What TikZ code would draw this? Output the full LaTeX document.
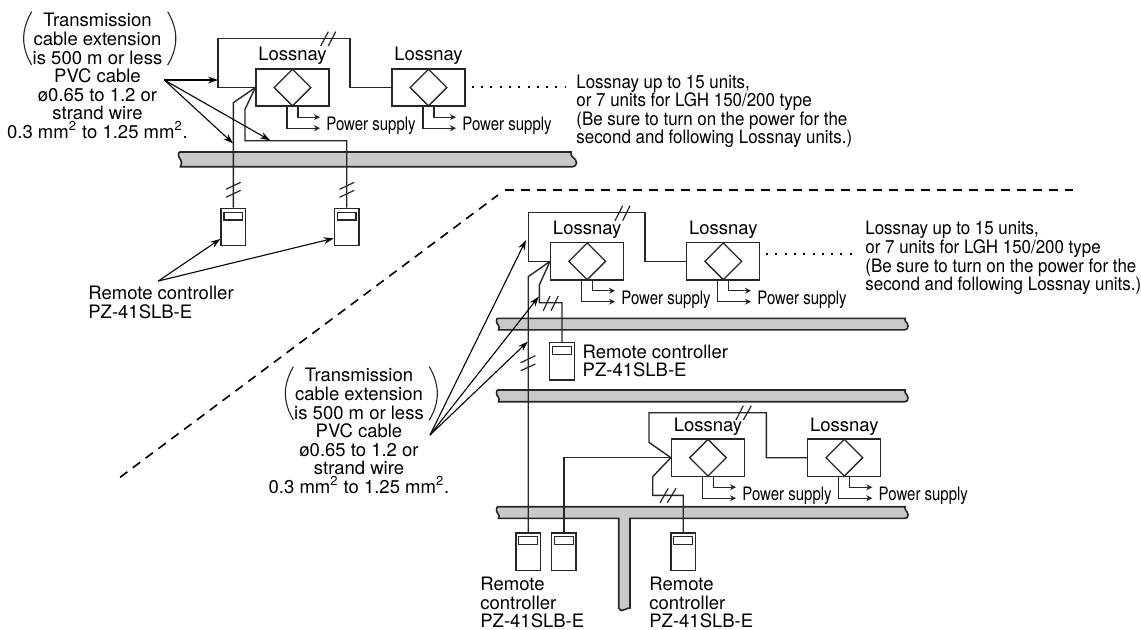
\documentclass[tikz,border=0pt]{standalone}
\usepackage{fontspec}
\setmainfont{TeX Gyre Heros}
\newfontfamily\supplyfont[FakeStretch=0.81]{TeX Gyre Heros}
\newfontfamily\notefont[FakeStretch=0.915]{TeX Gyre Heros}
\usepackage{tikz}
\usetikzlibrary{positioning,arrows.meta,shapes.geometric}
\definecolor{ductgray}{gray}{0.79}
\tikzset{
  unitbox/.style={rectangle, draw=black!85, minimum width=36.5pt, minimum height=18.6pt, inner sep=0pt, line width=0.65pt},
  valve/.style={diamond, draw=black!85, aspect=1, minimum size=18.6pt, inner sep=0pt, line width=0.65pt},
  unitlbl/.style={font=\fontsize{9.25}{9.3}\selectfont, inner sep=0pt},
  supply/.style={font=\supplyfont\fontsize{9.25}{9.3}\selectfont, anchor=west, inner ysep=0pt, inner xsep=3pt},
  txt/.style={font=\fontsize{9.25}{9.3}\selectfont, align=center, inner sep=0pt},
  ltxt/.style={font=\fontsize{9.25}{9.3}\selectfont, align=left, anchor=west, inner sep=0pt},
  note/.style={font=\notefont\fontsize{9.25}{9.3}\selectfont, align=left, anchor=west, inner sep=0pt},
  remote/.style={rectangle, draw=black!85, fill=white, minimum width=12.3pt, minimum height=18.7pt, inner sep=0pt, line width=0.65pt},
  lcd/.style={rectangle, draw=black!85, minimum width=9.3pt, minimum height=3.9pt, inner sep=0pt, line width=0.55pt},
  wire/.style={draw=black!85, line width=0.7pt},
  pwr/.style={draw=black!85, line width=0.6pt, -{Stealth[length=3pt,width=3pt]}},
  callout/.style={draw=black, line width=0.55pt, -{Stealth[length=5pt,width=3.4pt]}},
  tick/.style={draw=black!85, line width=0.6pt},
  duct/.style={draw=black!85, fill=ductgray, line width=0.8pt},
  brk/.style={draw=black!85, line width=0.55pt},
  divider/.style={draw=black, line width=0.8pt, dash pattern=on 4.6pt off 3.4pt},
  dots/.style={draw=black, line width=1pt, dash pattern=on 1pt off 3.65pt}
}

\begin{document}
\begin{tikzpicture}[x=0.5pt,y=-0.5pt]
  \useasboundingbox (0,0) rectangle (1141,629);
  % ducts
  \draw[duct] (180,152) -- (571,152) .. controls (569,157) and (577,158) .. (576.5,163) .. controls (576,165) and (575,166.7) .. (573,166.7) -- (180.5,166.7) .. controls (184,161) and (178,158) .. (178.5,155) .. controls (178.5,153) and (179,152) .. (180,152) -- cycle;
  \draw[duct] (498,318.3) -- (905,318.3) .. controls (904,322) and (908,322) .. (908,326) .. controls (908,328) and (907,329.8) .. (905,329.8) -- (498.5,329.8) .. controls (501,326) and (496,324) .. (496.5,321) .. controls (496.5,319) and (497,318.3) .. (498,318.3) -- cycle;
  \draw[duct] (498,390) -- (905,390) .. controls (904,394) and (908,394) .. (908,398) .. controls (908,400) and (907,401.7) .. (905,401.7) -- (498.5,401.7) .. controls (501,398) and (496,396) .. (496.5,393) .. controls (496.5,391) and (497,390) .. (498,390) -- cycle;
  \draw[duct] (498,506.7) -- (905,506.7) .. controls (904,510) and (908,511) .. (908,515) .. controls (908,517) and (907,518.3) .. (905,518.3) -- (630,518.3) -- (630,608) .. controls (626,608) and (624,611) .. (621,610.5) .. controls (620,610) and (619,609) .. (618.7,608) -- (618.7,518.3) -- (498.5,518.3) .. controls (501,515) and (496,513) .. (496.5,510) .. controls (496.5,508) and (497,506.7) .. (498,506.7) -- cycle;
  \draw[divider] (120,477.3) -- (498,195);
  \draw[divider] (505,190) -- (1072.7,190);
  % upper group
  \node[unitbox] (ua) at (292.5,87.5) {};
  \node[unitbox] (ub) at (428.5,87.5) {};
  \node[valve] (va) at (ua) {};
  \node[valve] (vb) at (ub) {};
  \node[unitlbl, above=1.5pt of ua] (la) {Lossnay};
  \node[unitlbl, above=1.5pt of ub] (lb) {Lossnay};
  \node[supply] (sa) at (320,126) {Power supply};
  \node[supply] (sb) at (456,126) {Power supply};
  \draw[pwr] ([xshift=2.75pt]ua.south) |- ([yshift=4.4pt]sa.west);
  \draw[pwr] ([xshift=-2.75pt]ua.south) |- ([yshift=-1.1pt]sa.west);
  \draw[pwr] ([xshift=2.75pt]ub.south) |- ([yshift=4.4pt]sb.west);
  \draw[pwr] ([xshift=-2.75pt]ub.south) |- ([yshift=-1.1pt]sb.west);
  \node[remote] (ra) at (233.3,227) {};
  \node[remote] (rb) at (346.7,227) {};
  \node[lcd, below=2pt of ra.north] (da) {};
  \node[lcd, below=2pt of rb.north] (db) {};
  \coordinate (c1) at (218,38.7);
  \coordinate (c2) at (350,38.7);
  \coordinate (c3) at (233.3,102.7);
  \coordinate (c4) at (245,109.3);
  \coordinate (c5) at (346.7,140.7);
  \draw[wire] (ua.west) -| (c1) -- (c2) |- (ub.west);
  \draw[wire] (ua.west) -- (c3) -- (ra.north);
  \draw[wire] (ua.west) -- (c4) |- (c5) -- (rb.north);
  \draw[tick] (320.7,46)--(328.3,31.7) (328.3,46)--(335.7,31.7);
  \draw[tick] (226,189.3)--(240.7,182.3) (226,197.3)--(240.7,190.3);
  \draw[tick] (339.5,189.3)--(354.2,182.3) (339.5,197.3)--(354.2,190.3);
  \draw[dots] (471.7,87.3) -- (566,87.3);
  \node[note] (na) at (576,111.3) {Lossnay up to 15 units,\\or 7 units for LGH 150/200 type\\(Be sure to turn on the power for the\\second and following Lossnay units.)};
  \node[txt] (ta) at (97.5,76) {Transmission\\cable extension\\is 500 m or less\\PVC cable\\ø0.65 to 1.2 or\\strand wire\\0.3 mm\textsuperscript{2} to 1.25 mm\textsuperscript{2}.};
  \draw[brk] (31.7,11.7) .. controls (21,30) and (21,47) .. (31.7,65);
  \draw[brk] (167.7,11.7) .. controls (178.5,30) and (178.5,47) .. (167.7,65);
  \coordinate (ka) at (164.3,80);
  \coordinate (ka1) at (218,80);
  \coordinate (ka2) at (233,143.3);
  \coordinate (ka3) at (270,140.3);
  \draw[callout] (ka) -- (ka1);
  \draw[callout] (ka) -- (ka2);
  \draw[callout] (ka) -- (ka3);
  \node[ltxt] (tr) at (88,302.5) {Remote controller\\PZ-41SLB-E};
  \coordinate (kr) at (158.3,281);
  \draw[callout] (kr) -- (ra.south west |- 0,239);
  \draw[callout] (kr) -- (rb.south west |- 0,238.3);
  % middle group
  \node[unitbox] (uc) at (587.2,261.3) {};
  \node[unitbox] (ud) at (723.3,261.3) {};
  \node[valve] (vc) at (uc) {};
  \node[valve] (vd) at (ud) {};
  \node[unitlbl, above=1.5pt of uc] (lc) {Lossnay};
  \node[unitlbl, above=1.5pt of ud] (ld) {Lossnay};
  \node[supply] (sc) at (615,299.5) {Power supply};
  \node[supply] (sd) at (751,299.5) {Power supply};
  \draw[pwr] ([xshift=2.75pt]uc.south) |- ([yshift=4.4pt]sc.west);
  \draw[pwr] ([xshift=-2.75pt]uc.south) |- ([yshift=-1.1pt]sc.west);
  \draw[pwr] ([xshift=2.75pt]ud.south) |- ([yshift=4.4pt]sd.west);
  \draw[pwr] ([xshift=-2.75pt]ud.south) |- ([yshift=-1.1pt]sd.west);
  \node[remote] (rc) at (562,361.2) {};
  \node[lcd, below=2pt of rc.north] (dc) {};
  \node[ltxt] (tc) at (582.3,361) {Remote controller\\PZ-41SLB-E};
  \coordinate (c6) at (528.2,212.7);
  \coordinate (c7) at (645,212.7);
  \coordinate (c8) at (528.2,276.7);
  \coordinate (c9) at (539.3,285);
  \coordinate (c10) at (539.3,302.7);
  \node[remote] (rd) at (528.2,551.7) {};
  \node[lcd, below=2pt of rd.north] (dd) {};
  \draw[wire] (uc.west) -| (c6) -- (c7) |- (ud.west);
  \draw[wire] (uc.west) -- (c8) -- (rd.north);
  \draw[wire] (uc.west) -- (c9) -- (c10) -| (rc.north);
  \draw[tick] (615,220.7)--(622.7,205.7) (622.7,220.7)--(630,205.7);
  \draw[tick] (543.3,310.7)--(550,296) (551,310.7)--(558.3,296);
  \draw[tick] (520.7,362.7)--(535.3,355.7) (520.7,370.7)--(535.3,364);
  \draw[dots] (766,254.3) -- (852.5,254.3);
  \node[note] (nb) at (865,258) {Lossnay up to 15 units,\\or 7 units for LGH 150/200 type\\(Be sure to turn on the power for the\\second and following Lossnay units.)};
  \node[txt] (tb) at (359,431) {Transmission\\cable extension\\is 500 m or less\\PVC cable\\ø0.65 to 1.2 or\\strand wire\\0.3 mm\textsuperscript{2} to 1.25 mm\textsuperscript{2}.};
  \draw[brk] (293.4,366.7) .. controls (282.7,385) and (282.7,402) .. (293.4,420);
  \draw[brk] (429.3,366.7) .. controls (440,385) and (440,402) .. (429.3,420);
  \coordinate (kb) at (430,435);
  \coordinate (kb1) at (526,240);
  \coordinate (kb2) at (538.7,296.7);
  \coordinate (kb3) at (527.7,341.7);
  \draw[callout] (kb) -- (kb1);
  \draw[callout] (kb) -- (kb2);
  \draw[callout] (kb) -- (kb3);
  % lower group
  \node[unitbox] (ue) at (708,457.7) {};
  \node[unitbox] (uf) at (844.3,457.7) {};
  \node[valve] (ve) at (ue) {};
  \node[valve] (vf) at (uf) {};
  \node[unitlbl, above=1.5pt of ue] (le) {Lossnay};
  \node[unitlbl, above=1.5pt of uf] (lf) {Lossnay};
  \node[supply] (se) at (736,496) {Power supply};
  \node[supply] (sf) at (872.3,496) {Power supply};
  \draw[pwr] ([xshift=2.75pt]ue.south) |- ([yshift=4.4pt]se.west);
  \draw[pwr] ([xshift=-2.75pt]ue.south) |- ([yshift=-1.1pt]se.west);
  \draw[pwr] ([xshift=2.75pt]uf.south) |- ([yshift=4.4pt]sf.west);
  \draw[pwr] ([xshift=-2.75pt]uf.south) |- ([yshift=-1.1pt]sf.west);
  \node[remote] (re) at (563.8,551.7) {};
  \node[remote] (rf) at (683.2,551.7) {};
  \node[lcd, below=2pt of re.north] (de) {};
  \node[lcd, below=2pt of rf.north] (df) {};
  \coordinate (c11) at (649,442.3);
  \coordinate (c12) at (649,412.7);
  \coordinate (c13) at (766.3,412.7);
  \coordinate (c14) at (652.7,476.7);
  \coordinate (c15) at (652.7,495.3);
  \draw[wire] (ue.west) -- (c11) -- (c12) -- (c13) |- (uf.west);
  \draw[wire] (ue.west) -| (re.north);
  \draw[wire] (ue.west) -- (c14) -- (c15) -| (rf.north);
  \draw[tick] (736,420)--(743.3,405.7) (743.3,420)--(751.3,405.7);
  \draw[tick] (660,502.7)--(668.3,488.3) (667.3,502.7)--(676,488.3);
  \node[ltxt] (tf) at (480,602.5) {Remote\\controller\\PZ-41SLB-E};
  \node[ltxt] (tg) at (649,602.5) {Remote\\controller\\PZ-41SLB-E};
\end{tikzpicture}
\end{document}
